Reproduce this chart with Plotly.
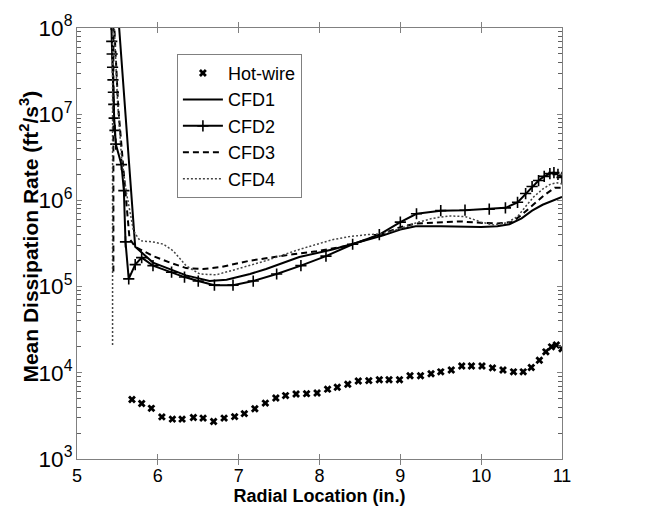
import plotly.graph_objects as go

# ---------------- data ----------------
hw_x = [5.68, 5.80, 5.92, 6.05, 6.18, 6.30, 6.44, 6.56, 6.69, 6.82,
        6.95, 7.07, 7.20, 7.33, 7.46, 7.58, 7.71, 7.84, 7.97, 8.10,
        8.22, 8.35, 8.48, 8.61, 8.74, 8.86, 8.99, 9.12, 9.25, 9.38,
        9.50, 9.63, 9.76, 9.88, 10.01, 10.14, 10.27, 10.40, 10.52, 10.62,
        10.72, 10.80, 10.87, 10.93, 11.0]
hw_y = [4900, 4400, 3870, 3080, 2900, 2900, 3030, 2980, 2720, 2980,
        3100, 3360, 3830, 4450, 5110, 5440, 5670, 5730, 5820, 6460,
        6810, 7360, 8050, 8110, 8320, 8320, 8320, 9240, 9240, 9740,
        10260, 10800, 12000, 12000, 12000, 11400, 10800, 10260, 10260, 11500,
        14000, 17500, 20000, 21000, 19000]

cfd1_x = [5.52, 5.72, 5.94, 6.15, 6.35, 6.64, 6.85, 7.14, 7.34, 7.75,
          8.16, 8.45, 8.78, 9.00, 9.19, 9.50, 9.80, 10.00, 10.20, 10.35,
          10.50, 10.63, 10.76, 10.88, 11.0]
cfd1_y = [1.05e8, 2.9e5, 1.9e5, 1.6e5, 1.35e5, 1.16e5, 1.2e5, 1.4e5, 1.6e5, 2.2e5,
          2.7e5, 3.2e5, 3.9e5, 4.6e5, 5.0e5, 5.0e5, 4.9e5, 4.9e5, 5.0e5, 5.3e5,
          6.2e5, 7.6e5, 8.9e5, 1.0e6, 1.1e6]

cfd2_x = [5.425, 5.43, 5.435, 5.44, 5.445, 5.45, 5.455, 5.46, 5.47, 5.48,
          5.55, 5.58, 5.60, 5.64, 5.72, 5.80, 5.94, 6.17, 6.33, 6.50,
          6.70, 6.93, 7.18, 7.47, 7.77, 8.08, 8.41, 8.74, 9.00, 9.20,
          9.50, 9.80, 10.10, 10.30, 10.45, 10.55, 10.63, 10.71, 10.78, 10.85,
          10.90, 10.95, 11.0]
cfd2_y = [1.1e8, 7e7, 5e7, 3.5e7, 2.5e7, 1.8e7, 1.3e7, 9e6, 6.5e6, 4.5e6,
          2.6e6, 1.3e6, 3.3e5, 1.23e5, 1.8e5, 2.17e5, 1.75e5, 1.47e5, 1.29e5, 1.16e5,
          1.04e5, 1.04e5, 1.16e5, 1.4e5, 1.75e5, 2.26e5, 3.1e5, 4.0e5, 5.6e5, 7.0e5,
          7.6e5, 7.7e5, 7.9e5, 8.2e5, 9.5e5, 1.2e6, 1.45e6, 1.7e6, 1.9e6, 2.05e6,
          2.1e6, 2.0e6, 1.85e6]

cfd3_x = [5.45, 5.45, 5.46, 5.51, 5.58, 5.65, 5.72, 5.78, 5.94, 6.15,
          6.35, 6.56, 6.77, 7.14, 7.34, 7.67, 7.96, 8.37, 8.78, 9.00,
          9.20, 9.50, 9.74, 9.99, 10.20, 10.38, 10.50, 10.65, 10.78, 10.91,
          11.0]
cfd3_y = [1.5e5, 1.2e8, 1.1e8, 1.2e7, 2.0e6, 3.6e5, 2.9e5, 2.7e5, 2.26e5, 1.9e5,
          1.64e5, 1.6e5, 1.68e5, 2.0e5, 2.14e5, 2.37e5, 2.57e5, 3.0e5, 4.1e5, 4.9e5,
          5.4e5, 5.6e5, 5.7e5, 5.5e5, 5.4e5, 5.6e5, 6.8e5, 9.0e5, 1.15e6, 1.4e6,
          1.4e6]

cfd4_x = [5.44, 5.44, 5.46, 5.50, 5.55, 5.61, 5.70, 5.78, 5.94, 6.07,
          6.19, 6.35, 6.52, 6.72, 6.93, 7.34, 7.75, 8.16, 8.37, 8.58,
          8.78, 9.00, 9.20, 9.40, 9.60, 9.80, 10.00, 10.15, 10.32, 10.45,
          10.55, 10.65, 10.76, 10.86, 10.94, 11.0]
cfd4_y = [2.1e4, 1.2e8, 1.1e8, 1.5e7, 3.2e6, 1.25e6, 4.4e5, 3.4e5, 3.3e5, 3.1e5,
          2.6e5, 1.74e5, 1.4e5, 1.37e5, 1.55e5, 2.0e5, 2.7e5, 3.5e5, 3.8e5, 4.0e5,
          4.1e5, 4.7e5, 5.5e5, 6.2e5, 6.6e5, 6.5e5, 5.6e5, 5.2e5, 5.5e5, 6.5e5,
          8.5e5, 1.1e6, 1.35e6, 1.55e6, 1.6e6, 1.55e6]

x_ticks = [5, 6, 7, 8, 9, 10, 11]
y_minor = [m * 10 ** e for e in range(3, 8) for m in range(2, 10)]

FONT = "Arial, Liberation Sans, sans-serif"

fig = go.Figure()
fig.add_trace(go.Scatter(x=hw_x, y=hw_y, mode="markers", name="Hot-wire",
                         marker=dict(symbol="x", size=7, color="black")))
fig.add_trace(go.Scatter(x=cfd1_x, y=cfd1_y, mode="lines", name="CFD1",
                         line=dict(color="black", width=2)))
fig.add_trace(go.Scatter(x=cfd2_x, y=cfd2_y, mode="lines+markers", name="CFD2",
                         line=dict(color="black", width=2),
                         marker=dict(symbol="cross-thin", size=8,
                                     line=dict(color="black", width=1.6))))
fig.add_trace(go.Scatter(x=cfd3_x, y=cfd3_y, mode="lines", name="CFD3",
                         line=dict(color="black", width=2, dash="6px,4px")))
fig.add_trace(go.Scatter(x=cfd4_x, y=cfd4_y, mode="lines", name="CFD4",
                         line=dict(color="#444444", width=1.5, dash="2px,2px")))
# invisible helper traces on twin log axes, only to carry the minor ticks
for ax in ("y2", "y3"):
    fig.add_trace(go.Scatter(x=[5], y=[1e3], yaxis=ax, mode="markers",
                             marker=dict(opacity=0), showlegend=False,
                             hoverinfo="skip"))

axis_common = dict(showline=True, linecolor="#808080", linewidth=1,
                   mirror="allticks", ticks="inside", ticklen=5,
                   tickcolor="#808080", showgrid=False, zeroline=False,
                   tickfont=dict(family=FONT, size=18, color="black"))

minor_axis = dict(type="log", range=[3, 8], overlaying="y", tickvals=y_minor,
                  ticks="inside", ticklen=4, tickcolor="#606060", tickwidth=1,
                  showticklabels=False, showgrid=False, zeroline=False,
                  showline=False)

fig.update_layout(
    width=660, height=512,
    margin=dict(l=77, r=98, t=19, b=53),
    paper_bgcolor="white", plot_bgcolor="white",
    font=dict(family=FONT, color="black"),
    xaxis=dict(range=[5, 11], tickvals=x_ticks,
               title=dict(text="<b>Radial Location (in.)</b>",
                          font=dict(family=FONT, size=18), standoff=0),
               **axis_common),
    yaxis=dict(type="log", range=[3, 8], dtick=1, exponentformat="power",
               **axis_common),
    yaxis2=dict(side="left", **minor_axis),
    yaxis3=dict(side="right", **minor_axis),
    legend=dict(x=0.206, y=0.94, xanchor="left", yanchor="top",
                bordercolor="#808080", borderwidth=1, bgcolor="white",
                font=dict(family=FONT, size=18), itemwidth=40),
    annotations=[dict(text="<b>Mean Dissipation Rate (ft<sup>2</sup>/s<sup>3</sup>)</b>",
                      textangle=-90, xref="paper", yref="paper",
                      x=-0.099, y=0.516, xanchor="center", yanchor="middle",
                      showarrow=False, font=dict(family=FONT, size=21))],
    showlegend=True,
)

fig.write_html("out.html")
